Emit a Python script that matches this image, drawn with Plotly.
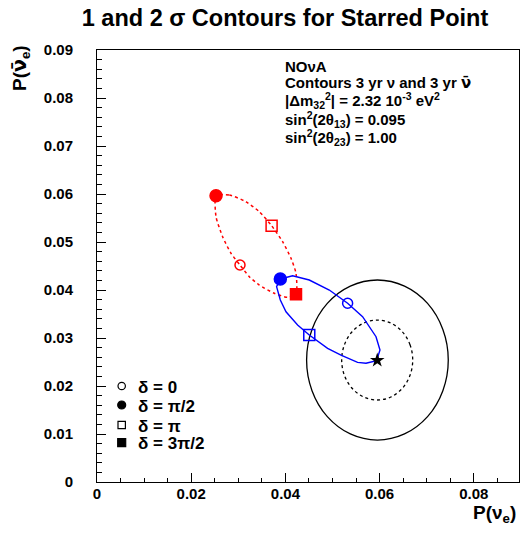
import plotly.graph_objects as go

# ---------------- data ----------------
# red dashed trajectory (closed loop)
red_x = [0.02527, 0.02809, 0.03163, 0.03446, 0.03707, 0.03941, 0.04119, 0.04225,
         0.04225, 0.04047, 0.03764, 0.03446, 0.03234, 0.03036, 0.02845, 0.02667, 0.02527, 0.02527]
red_y = [0.05964, 0.05979, 0.05839, 0.05631, 0.05340, 0.05006, 0.04660, 0.04348,
         0.03910, 0.03847, 0.03931, 0.04104, 0.04277, 0.04521, 0.04765, 0.05110, 0.05527, 0.05964]

# blue solid trajectory (closed loop)
blue_x = [0.03892, 0.04153, 0.04507, 0.04932, 0.05321, 0.05639, 0.05924, 0.06008, 0.05936,
          0.05711, 0.05533, 0.05180, 0.04896, 0.04507, 0.04259, 0.04013, 0.03892, 0.03813, 0.03892]
blue_y = [0.04229, 0.04298, 0.04208, 0.03999, 0.03723, 0.03444, 0.03027, 0.02750, 0.02527,
          0.02473, 0.02493, 0.02645, 0.02785, 0.03062, 0.03270, 0.03547, 0.03791, 0.04069, 0.04229]

# 2 sigma contour (solid black)
c2_x = [0.07458, 0.07343, 0.07018, 0.06529, 0.05954, 0.05378, 0.04890, 0.04565,
        0.04450, 0.04565, 0.04890, 0.05378, 0.05954, 0.06529, 0.07018, 0.07343, 0.07458]
c2_y = [0.02541, 0.03179, 0.03720, 0.04081, 0.04208, 0.04081, 0.03720, 0.03179,
        0.02541, 0.01903, 0.01362, 0.01001, 0.00874, 0.01001, 0.01362, 0.01903, 0.02541]

# 1 sigma contour (dashed black)
c1_x = [0.06703, 0.06646, 0.06483, 0.06238, 0.05949, 0.05661, 0.05416, 0.05253,
        0.05195, 0.05253, 0.05416, 0.05661, 0.05949, 0.06238, 0.06483, 0.06646, 0.06703]
c1_y = [0.02541, 0.02860, 0.03130, 0.03311, 0.03374, 0.03311, 0.03130, 0.02860,
        0.02541, 0.02222, 0.01952, 0.01771, 0.01708, 0.01771, 0.01952, 0.02222, 0.02541]

# starred point
star_x = [0.05950]
star_y = [0.02535]

# delta markers: order delta = 0, pi/2, pi, 3pi/2
red_delta_x = [0.03036, 0.02527, 0.03707, 0.04225]
red_delta_y = [0.04521, 0.05964, 0.05340, 0.03910]
blue_delta_x = [0.05321, 0.03892, 0.04507]
blue_delta_y = [0.03723, 0.04229, 0.03062]

delta_labels = ["δ = 0", "δ = π/2", "δ = π", "δ = 3π/2"]
delta_symbols = ["circle-open", "circle", "square-open", "square"]

x_ticks = [0, 0.02, 0.04, 0.06, 0.08]
x_ticktext = ["0", "0.02", "0.04", "0.06", "0.08"]
y_ticks = [0, 0.01, 0.02, 0.03, 0.04, 0.05, 0.06, 0.07, 0.08, 0.09]
y_ticktext = ["0", "0.01", "0.02", "0.03", "0.04", "0.05", "0.06", "0.07", "0.08", "0.09"]

NUBAR = "<span style=\"font-family:'DejaVu Sans'\">ν\u0304</span>"
info_lines = [
    "NOνA",
    "Contours 3 yr ν and 3 yr " + NUBAR,
    "|Δm<sub>32</sub><sup>2</sup>| = 2.32 10<sup>-3</sup> eV<sup>2</sup>",
    "sin<sup>2</sup>(2θ<sub>13</sub>) = 0.095",
    "sin<sup>2</sup>(2θ<sub>23</sub>) = 1.00",
]

# ---------------- figure ----------------
FONT = "Liberation Sans"
W, H = 521, 537
L, R, T, B = 97, 2, 50, 55
PW, PH = W - L - R, H - T - B


def px2paper(px, py):
    return (px - L) / PW, (H - B - py) / PH


fig = go.Figure()

fig.add_trace(go.Scatter(x=c2_x, y=c2_y, mode="lines", line=dict(color="black", width=1.3, shape="spline"),
                         showlegend=False, hoverinfo="skip"))
fig.add_trace(go.Scatter(x=c1_x, y=c1_y, mode="lines",
                         line=dict(color="black", width=1.3, dash="3px,3px", shape="spline"),
                         showlegend=False, hoverinfo="skip"))
fig.add_trace(go.Scatter(x=red_x, y=red_y, mode="lines",
                         line=dict(color="red", width=1.5, dash="3px,3px", shape="spline", smoothing=0.6),
                         showlegend=False, hoverinfo="skip"))
fig.add_trace(go.Scatter(x=blue_x, y=blue_y, mode="lines",
                         line=dict(color="blue", width=1.4),
                         showlegend=False, hoverinfo="skip"))

red_sizes = [10, 12, 11, 11]
for i in range(4):
    fig.add_trace(go.Scatter(x=[red_delta_x[i]], y=[red_delta_y[i]], mode="markers",
                             marker=dict(symbol=delta_symbols[i], size=red_sizes[i], color="red",
                                         line=dict(color="red", width=1.5)),
                             showlegend=False))
blue_sizes = [10, 12, 11]
for i in range(3):
    fig.add_trace(go.Scatter(x=[blue_delta_x[i]], y=[blue_delta_y[i]], mode="markers",
                             marker=dict(symbol=delta_symbols[i], size=blue_sizes[i], color="blue",
                                         line=dict(color="blue", width=1.5)),
                             showlegend=False))

fig.add_trace(go.Scatter(x=star_x, y=star_y, mode="markers",
                         marker=dict(symbol="star", size=11, color="black", line=dict(width=0)),
                         showlegend=False))

# info text
info_py = [66, 83, 100.5, 119, 137.5]
for txt, py in zip(info_lines, info_py):
    xp, yp = px2paper(283, py)
    fig.add_annotation(text=txt, xref="paper", yref="paper", x=xp, y=yp, xanchor="left", yanchor="middle",
                       showarrow=False, font=dict(family=FONT, size=15, color="black", weight="bold"))

# legend (drawn manually)
leg_py = [386, 405, 425, 442.7]
for i, py in enumerate(leg_py):
    xp, yp = px2paper(121.7, py)
    sym = delta_symbols[i]
    filled = not sym.endswith("open")
    half = 4 if filled else 3.7
    shape_type = "circle" if sym.startswith("circle") else "rect"
    fig.add_shape(type=shape_type, xref="paper", yref="paper", xsizemode="pixel", ysizemode="pixel",
                  xanchor=xp, yanchor=yp, x0=-half, x1=half, y0=-half, y1=half,
                  line=dict(color="black", width=1.2),
                  fillcolor="black" if filled else "rgba(0,0,0,0)")
    tx, ty = px2paper(136, py + 1)
    fig.add_annotation(text=delta_labels[i], xref="paper", yref="paper", x=tx, y=ty, xanchor="left",
                       yanchor="middle", showarrow=False,
                       font=dict(family=FONT, size=17, color="black", weight="bold"))

# axis titles
xp, yp = px2paper(518, 514)
fig.add_annotation(text="P(ν<sub>e</sub>)", xref="paper", yref="paper", x=xp, y=yp, xanchor="right",
                   yanchor="middle", showarrow=False, font=dict(family=FONT, size=19, color="black", weight="bold"))
xp, yp = px2paper(21, 68)
fig.add_annotation(text="P(" + NUBAR + "<sub>e</sub>)", xref="paper", yref="paper", x=xp, y=yp,
                   xanchor="center", yanchor="middle", textangle=-90, showarrow=False,
                   font=dict(family=FONT, size=19, color="black", weight="bold"))

axis_common = dict(showline=True, linecolor="black", linewidth=1, mirror=True, showgrid=False, zeroline=False,
                   ticks="inside", tickcolor="black", tickwidth=1, ticklen=9, automargin=False,
                   tickfont=dict(family=FONT, size=15, color="black", weight="bold"))

fig.update_xaxes(range=[0, PW / 4710.0], tickmode="array", tickvals=x_ticks, ticktext=x_ticktext,
                 minor=dict(ticks="inside", dtick=0.005, tick0=0, ticklen=4.5, tickcolor="black", tickwidth=1),
                 ticklabelstandoff=-2, **axis_common)
fig.update_yaxes(range=[0, 0.09], tickmode="array", tickvals=y_ticks, ticktext=y_ticktext,
                 minor=dict(ticks="inside", dtick=0.002, tick0=0, ticklen=4.5, tickcolor="black", tickwidth=1),
                 ticklabelstandoff=20, **axis_common)

fig.update_layout(
    width=W, height=H,
    margin=dict(l=L, r=R, t=T, b=B, autoexpand=False),
    paper_bgcolor="white", plot_bgcolor="white",
    title=dict(text="1 and 2 σ Contours for Starred Point", xref="container", yref="container",
               x=285 / W, y=1 - 18 / H, xanchor="center", yanchor="middle",
               font=dict(family=FONT, size=23.5, color="black", weight="bold")),
    showlegend=False,
)

fig.write_html("out.html", config={"displayModeBar": False},
               post_script="document.body.style.margin='0px';document.body.style.overflow='hidden';")
